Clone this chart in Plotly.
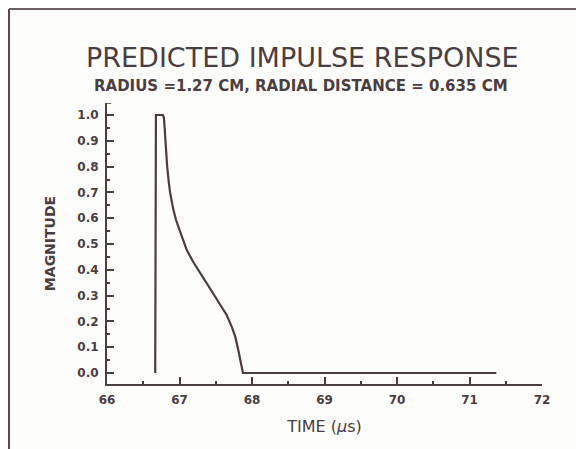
import plotly.graph_objects as go

# Data
time_us = [66.665, 66.665, 66.675, 66.77, 66.785, 66.795, 66.81, 66.83, 66.85, 66.87,
           66.91, 66.95, 67.00, 67.05, 67.10, 67.19, 67.28, 67.37, 67.46, 67.55,
           67.65, 67.72, 67.77, 67.81, 67.84, 67.86, 67.875, 71.37]
magnitude = [0.0, 0.99, 1.0, 1.0, 0.99, 0.95, 0.88, 0.80, 0.745, 0.70,
             0.64, 0.595, 0.555, 0.515, 0.477, 0.43, 0.388, 0.35, 0.31, 0.27,
             0.225, 0.18, 0.14, 0.09, 0.045, 0.012, 0.0, 0.0]

x_ticks = [66, 67, 68, 69, 70, 71, 72]
y_ticks = [0.0, 0.1, 0.2, 0.3, 0.4, 0.5, 0.6, 0.7, 0.8, 0.9, 1.0]

# page has an 8px body margin, so the figure is drawn 8px smaller and
# positions below are given in page pixels and converted
OFF = 8
W, H = 576, 441
L, R, T, B = 99, 42, 95, 65
pw, ph = W - L - R, H - T - B


def px(x_page):
    return (x_page - OFF - L) / pw


def py(y_page):
    return (H - B - (y_page - OFF)) / ph


ink = "#4b3e43"
font = "DejaVu Sans, Verdana, sans-serif"

fig = go.Figure()
fig.add_trace(go.Scatter(x=time_us, y=magnitude, mode="lines",
                         line=dict(color=ink, width=2.2),
                         showlegend=False, hoverinfo="skip"))

fig.update_layout(
    width=W, height=H,
    margin=dict(l=L, r=R, t=T, b=B, autoexpand=False),
    paper_bgcolor="#fdfdfb", plot_bgcolor="#fdfdfb",
    xaxis=dict(range=[66, 72], tickvals=x_ticks, ticktext=[f"<b>{v}</b>" for v in x_ticks],
               showgrid=False, zeroline=False, showline=True, linecolor=ink, linewidth=2,
               ticks="inside", ticklen=7, tickwidth=1.5, tickcolor=ink,
               minor=dict(dtick=0.5, tick0=66, ticks="inside", ticklen=3, tickcolor=ink, tickwidth=1.5),
               tickfont=dict(family=font, size=12, color=ink), ticklabelstandoff=4,
               title=dict(text="TIME (<i>μ</i>s)", font=dict(family=font, size=16, color=ink),
                          standoff=14)),
    yaxis=dict(range=[-0.0426, 1.0465], tickvals=y_ticks,
               ticktext=[f"<b>{v:.1f}</b>" for v in y_ticks],
               showgrid=False, zeroline=False, showline=True, linecolor=ink, linewidth=2,
               ticks="inside", ticklen=7, tickwidth=1.5, tickcolor=ink,
               minor=dict(dtick=0.05, tick0=0, ticks="inside", ticklen=3, tickcolor=ink, tickwidth=1.5),
               tickfont=dict(family=font, size=12, color=ink), ticklabelstandoff=4,
               title=dict(text="<b>MAGNITUDE</b>", font=dict(family=font, size=14, color=ink),
                          standoff=18)),
    annotations=[
        dict(text="PREDICTED IMPULSE RESPONSE", x=px(302), y=py(57), xref="paper", yref="paper",
             showarrow=False, xanchor="center", yanchor="middle",
             font=dict(family=font, size=27, color=ink)),
        dict(text="<b>RADIUS =1.27 CM, RADIAL DISTANCE = 0.635 CM</b>", x=px(301), y=py(86),
             xref="paper", yref="paper", showarrow=False, xanchor="center", yanchor="middle",
             font=dict(family=font, size=15, color=ink)),
    ],
    shapes=[
        dict(type="line", xref="paper", yref="paper", x0=px(9), x1=px(9), y0=py(9), y1=py(449),
             line=dict(color="#5a4a50", width=2)),
        dict(type="line", xref="paper", yref="paper", x0=px(9), x1=px(584), y0=py(9), y1=py(9),
             line=dict(color="#6a6066", width=2)),
        dict(type="line", xref="x", yref="y", x0=66, x1=66.06, y0=1.0465, y1=1.0465,
             line=dict(color=ink, width=1.5)),
    ],
)

fig.write_html("out.html")
